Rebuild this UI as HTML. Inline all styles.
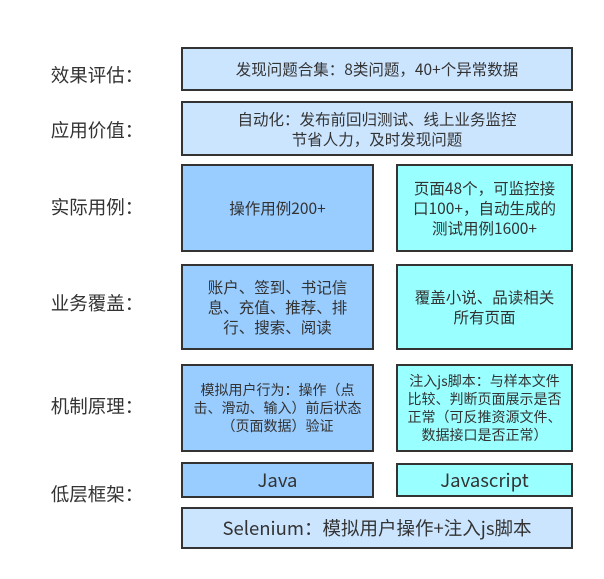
<!DOCTYPE html>
<html><head><meta charset="utf-8"><style>
body{margin:0;width:604px;height:579px;background:#fff;position:relative;overflow:hidden;font-family:"Noto Sans CJK SC","Liberation Sans",sans-serif;color:#333}
.b{position:absolute;box-sizing:border-box;border:2px solid #333;display:flex;align-items:center;justify-content:center;text-align:center;font-size:15px;line-height:20px}
.l{background:#cce5ff}.m{background:#99ccff}.c{background:#99ffff}
.t{position:absolute;left:36px;width:122px;text-align:center;font-size:18.5px;line-height:22px}
</style></head><body>
<div class="t" style="top:64px">效果评估：</div>
<div class="t" style="top:119px">应用价值：</div>
<div class="t" style="top:196px">实际用例：</div>
<div class="t" style="top:292px">业务覆盖：</div>
<div class="t" style="top:395px">机制原理：</div>
<div class="t" style="top:483px">低层框架：</div>

<div class="b l" style="left:181px;top:47px;width:392px;height:44px;font-size:15.5px">发现问题合集：8类问题，40+个异常数据</div>
<div class="b l" style="left:181px;top:101px;width:392px;height:55px;font-size:15.5px">自动化：发布前回归测试、线上业务监控<br>节省人力，及时发现问题</div>
<div class="b m" style="left:181px;top:164px;width:193px;height:88px;font-size:15.5px">操作用例200+</div>
<div class="b c" style="left:396px;top:164px;width:177px;height:88px;font-size:15.5px">页面48个，可监控接<br>口100+，自动生成的<br>测试用例1600+</div>
<div class="b m" style="left:181px;top:264px;width:193px;height:86px;font-size:15.5px">账户、签到、书记信<br>息、充值、推荐、排<br>行、搜索、阅读</div>
<div class="b c" style="left:396px;top:264px;width:177px;height:86px;font-size:15.5px">覆盖小说、品读相关<br>所有页面</div>
<div class="b m" style="left:181px;top:364px;width:193px;height:88px;font-size:14px;line-height:18px">模拟用户行为：操作（点<br>击、滑动、输入）前后状态<br>（页面数据）验证</div>
<div class="b c" style="left:396px;top:364px;width:177px;height:88px;font-size:14px;line-height:18px">注入js脚本：与样本文件<br>比较、判断页面展示是否<br>正常（可反推资源文件、<br>数据接口是否正常）</div>
<div class="b m" style="left:181px;top:462px;width:193px;height:36px;font-size:18.5px">Java</div>
<div class="b c" style="left:396px;top:463px;width:177px;height:34px;font-size:18.5px">Javascript</div>
<div class="b l" style="left:181px;top:507px;width:392px;height:42px;font-size:18.5px">Selenium：模拟用户操作+注入js脚本</div>
</body></html>
